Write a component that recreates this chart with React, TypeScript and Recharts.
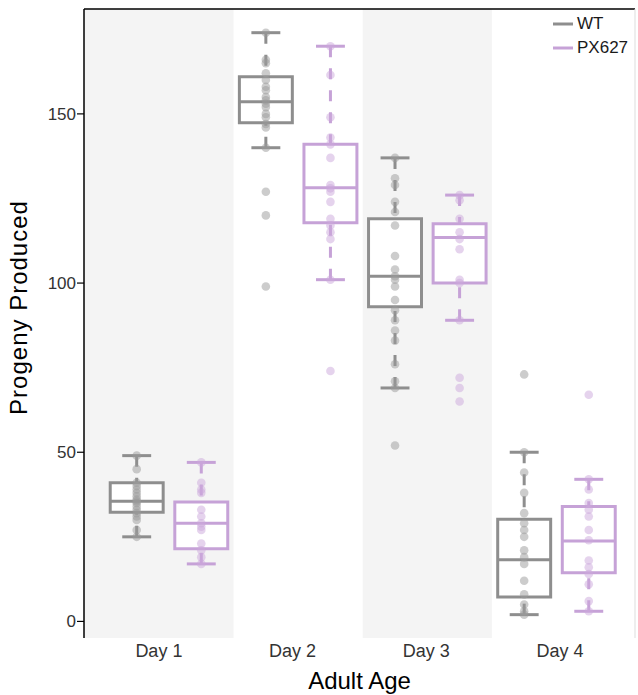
import React from "react";
import {
  ComposedChart,
  XAxis,
  YAxis,
  Scatter,
  ReferenceArea,
  ReferenceLine,
  Legend,
} from "recharts";

// ---- categories & labels ----
const DAYS = ["Day 1", "Day 2", "Day 3", "Day 4"];
const DAY_TICKS = [1, 2, 3, 4];
const GENOTYPES = ["WT", "PX627"];
const Y_TICKS = [0, 50, 100, 150];

// ---- box statistics ----
const WT_LOW = [25, 140, 69, 2];
const WT_Q1 = [32.3, 147.4, 93, 7.2];
const WT_MEDIAN = [35.5, 153.6, 102, 18.2];
const WT_Q3 = [41, 161, 119, 30.2];
const WT_HIGH = [49, 174, 137, 50];

const PX_LOW = [17, 101, 89, 3];
const PX_Q1 = [21.5, 117.8, 100, 14.4];
const PX_MEDIAN = [29, 128.2, 113.5, 23.8];
const PX_Q3 = [35.3, 141, 117.5, 34];
const PX_HIGH = [47, 170, 126, 42];

// ---- individual observations ----
const WT_DAY1 = [49, 45, 41, 40, 39, 38, 37, 36, 35.5, 35, 34, 33, 32, 31, 30, 27, 25];
const WT_DAY2 = [174, 166, 165, 162, 160, 158, 157, 155, 154, 153, 152, 150, 149, 147, 146, 140, 127, 120, 99];
const WT_DAY3 = [137, 131, 129, 124, 121, 117, 108, 104, 102, 101, 99, 95, 92, 89, 86, 83, 76, 71, 69, 52];
const WT_DAY4 = [73, 50, 44, 38, 32, 29, 27, 25, 21, 19, 17, 12, 8, 5, 3, 2];

const PX_DAY1 = [47, 41, 39, 38, 33, 31, 29, 28, 27, 23, 21, 19, 17];
const PX_DAY2 = [170, 161.5, 149, 143, 141, 137, 129, 128, 127, 124, 119, 117, 115, 113, 101, 74];
const PX_DAY3 = [126, 124.5, 119, 115, 113, 110, 101, 100, 89, 72, 69, 65];
const PX_DAY4 = [67, 42, 39, 35, 33, 31, 27, 24, 18, 16, 14, 11, 6, 3];

const WT_POINTS = [WT_DAY1, WT_DAY2, WT_DAY3, WT_DAY4];
const PX_POINTS = [PX_DAY1, PX_DAY2, PX_DAY3, PX_DAY4];

// ---- styling ----
const BOX_COLORS = ["#8e8e8e", "#c6a2d7"];
const POINT_COLORS = ["#9a9a9a", "#cba8dc"];
const BAND_COLOR = "#f4f4f4";

const X_MIN = 0.342;
const X_MAX = 4.608;
const LABEL_X_MIN = 0.44;
const LABEL_X_MAX = 4.56;
const Y_MIN = -4.9;
const Y_MAX = 181;
const DODGE = 0.25;
const BOX_HALF = 0.205;
const CAP_HALF = 0.112;

const STATS = [
  { low: WT_LOW, q1: WT_Q1, med: WT_MEDIAN, q3: WT_Q3, high: WT_HIGH, pts: WT_POINTS },
  { low: PX_LOW, q1: PX_Q1, med: PX_MEDIAN, q3: PX_Q3, high: PX_HIGH, pts: PX_POINTS },
];

const scatterData = STATS.map((s, g) =>
  s.pts.flatMap((vals, i) =>
    vals.map((v) => ({ x: i + 1 + (g === 0 ? -DODGE : DODGE), y: v }))
  )
);

// positions of the category labels on the label axis (one per day)
const labelData = DAY_TICKS.map((t) => ({ x: t, y: Y_MIN }));

const renderLegend = () => (
  <div style={{ fontFamily: "Liberation Sans, Arial, sans-serif", fontSize: 17, color: "#1a1a1a" }}>
    {GENOTYPES.map((name, g) => (
      <div key={name} style={{ display: "flex", alignItems: "center", height: 24 }}>
        <svg width={24} height={24} style={{ display: "block" }}>
          <line x1={0} y1={12} x2={20} y2={12} stroke={BOX_COLORS[g]} strokeWidth={3} />
        </svg>
        <span>{name}</span>
      </div>
    ))}
  </div>
);

export default function App() {
  const font = "Liberation Sans, Arial, sans-serif";
  const elements: React.ReactNode[] = [];

  // alternating background bands
  DAYS.forEach((d, i) => {
    if (i % 2 === 0) {
      elements.push(
        <ReferenceArea
          key={"band" + i}
          x1={i === 0 ? X_MIN : i + 0.5}
          x2={i + 1.5}
          y1={Y_MIN}
          y2={Y_MAX}
          fill={BAND_COLOR}
          fillOpacity={1}
          stroke="none"
          ifOverflow="visible"
        />
      );
    }
  });

  // boxes
  STATS.forEach((s, g) => {
    DAYS.forEach((d, i) => {
      const c = i + 1 + (g === 0 ? -DODGE : DODGE);
      const col = BOX_COLORS[g];
      elements.push(
        <ReferenceArea
          key={`box${g}${i}`}
          x1={c - BOX_HALF}
          x2={c + BOX_HALF}
          y1={s.q1[i]}
          y2={s.q3[i]}
          fill="#ffffff"
          fillOpacity={1}
          stroke={col}
          strokeWidth={3}
          ifOverflow="visible"
        />
      );
    });
  });

  // whiskers, caps, medians
  STATS.forEach((s, g) => {
    DAYS.forEach((d, i) => {
      const c = i + 1 + (g === 0 ? -DODGE : DODGE);
      const col = BOX_COLORS[g];
      elements.push(
        <ReferenceLine
          key={`wu${g}${i}`}
          segment={[{ x: c, y: s.high[i] }, { x: c, y: s.q3[i] }]}
          stroke={col}
          strokeWidth={3}
          strokeDasharray="11 11"
          ifOverflow="visible"
        />,
        <ReferenceLine
          key={`wl${g}${i}`}
          segment={[{ x: c, y: s.low[i] }, { x: c, y: s.q1[i] }]}
          stroke={col}
          strokeWidth={3}
          strokeDasharray="11 11"
          ifOverflow="visible"
        />,
        <ReferenceLine
          key={`cu${g}${i}`}
          segment={[{ x: c - CAP_HALF, y: s.high[i] }, { x: c + CAP_HALF, y: s.high[i] }]}
          stroke={col}
          strokeWidth={3}
          ifOverflow="visible"
        />,
        <ReferenceLine
          key={`cl${g}${i}`}
          segment={[{ x: c - CAP_HALF, y: s.low[i] }, { x: c + CAP_HALF, y: s.low[i] }]}
          stroke={col}
          strokeWidth={3}
          ifOverflow="visible"
        />,
        <ReferenceLine
          key={`md${g}${i}`}
          segment={[{ x: c - BOX_HALF, y: s.med[i] }, { x: c + BOX_HALF, y: s.med[i] }]}
          stroke={col}
          strokeWidth={3}
          ifOverflow="visible"
        />
      );
    });
  });

  return (
    <div style={{ position: "absolute", left: 0, top: 0, width: 638, height: 695, background: "#fff" }}>
      <ComposedChart
        width={638}
        height={695}
        margin={{ top: 9, right: 3, bottom: 0, left: 0 }}
        style={{ fontFamily: font }}
      >
        <XAxis
          type="number"
          dataKey="x"
          domain={[X_MIN, X_MAX]}
          allowDataOverflow
          ticks={DAY_TICKS}
          tick={false}
          tickLine={false}
          height={0}
          axisLine={{ stroke: "#000", strokeWidth: 1.5 }}
        />
        <XAxis
          xAxisId="labels"
          type="number"
          dataKey="x"
          domain={[LABEL_X_MIN, LABEL_X_MAX]}
          allowDataOverflow
          ticks={DAY_TICKS}
          interval={0}
          tickFormatter={(v: number) => DAYS[Math.round(v) - 1] ?? ""}
          tickLine={false}
          tickSize={0}
          tickMargin={6}
          height={57}
          axisLine={false}
          tick={{ fill: "#333", fontSize: 18, fontFamily: font }}
          label={{
            value: "Adult Age",
            position: "insideBottom",
            offset: 6,
            fill: "#000",
            fontSize: 24,
            fontFamily: font,
          }}
        />
        <YAxis
          type="number"
          dataKey="y"
          domain={[Y_MIN, Y_MAX]}
          allowDataOverflow
          ticks={Y_TICKS}
          interval={0}
          width={84}
          tickSize={7}
          tickMargin={1}
          tickLine={{ stroke: "#000", strokeWidth: 1.2 }}
          axisLine={{ stroke: "#000", strokeWidth: 1.5 }}
          tick={{ fill: "#333", fontSize: 17, fontFamily: font }}
          label={{
            value: "Progeny Produced",
            angle: -90,
            position: "insideLeft",
            offset: 18,
            dy: -16,
            fill: "#000",
            fontSize: 24,
            fontFamily: font,
            style: { textAnchor: "middle", letterSpacing: 1 },
          }}
        />
        {elements}
        <ReferenceLine y={Y_MAX} stroke="#000" strokeWidth={1.5} ifOverflow="visible" />
        <ReferenceLine x={X_MAX} stroke="#dddddd" strokeWidth={1} ifOverflow="visible" />
        <Scatter
          xAxisId="labels"
          data={labelData}
          isAnimationActive={false}
          legendType="none"
          shape={() => <g />}
        />
        {STATS.map((s, g) => (
          <Scatter
            key={GENOTYPES[g]}
            name={GENOTYPES[g]}
            data={scatterData[g]}
            isAnimationActive={false}
            fill={POINT_COLORS[g]}
            shape={(p: any) => (
              <circle cx={p.cx} cy={p.cy} r={4.3} fill={POINT_COLORS[g]} fillOpacity={0.5} />
            )}
          />
        ))}
        <Legend
          layout="horizontal"
          verticalAlign="middle"
          align="center"
          content={renderLegend}
          wrapperStyle={{ top: 12, left: 553, width: 90, height: 48 }}
        />
      </ComposedChart>
    </div>
  );
}
